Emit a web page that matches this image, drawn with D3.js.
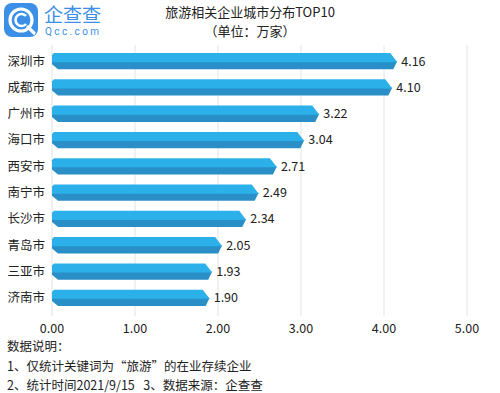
<!DOCTYPE html>
<html><head><meta charset="utf-8">
<script src="https://cdn.jsdelivr.net/npm/d3@7"></script>
<style>body{margin:0;background:#fff}svg{display:block;font-family:"Noto Sans CJK SC","Noto Sans",sans-serif}</style>
</head><body><svg id="c" width="500" height="393"></svg>
<script>
const cities = ["深圳市","成都市","广州市","海口市","西安市","南宁市","长沙市","青岛市","三亚市","济南市"];
const values = [4.16,4.10,3.22,3.04,2.71,2.49,2.34,2.05,1.93,1.90];
const ticks = [0,1,2,3,4,5];
const title = "旅游相关企业城市分布TOP10";
const subtitle = "（单位：万家）";
const notes = ["数据说明：","1、仅统计关键词为“旅游”的在业存续企业","2、统计时间2021/9/15\u00a0\u00a0\u00a03、数据来源：企查查"];

const svg = d3.select("#c");
const x = d3.scaleLinear().domain([0,5]).range([52,467]);
const y = d3.scaleBand().domain(cities).range([48,311]).paddingInner(0.38).paddingOuter(0.19);

// gridlines
svg.append("g").selectAll("line").data(ticks).join("line")
  .attr("x1",d=>x(d)).attr("x2",d=>x(d)).attr("y1",45).attr("y2",316)
  .attr("stroke","#e3e3e3").attr("stroke-width",1);

// axis labels
svg.append("g").selectAll("text").data(ticks).join("text")
  .attr("x",d=>x(d)).attr("y",333).attr("text-anchor","middle")
  .attr("font-size",12.5).attr("fill","#222").text(d=>d.toFixed(2));

// bars
const g = svg.append("g").selectAll("g").data(cities).join("g");
g.append("path").attr("fill","#2a8fc6").attr("d",(c,i)=>{
  const x0=x(0), x1=x(values[i]), y0=y(c), h=y.bandwidth(), m=y0+h/2, y1=y0+h;
  return `M${x0},${m}L${x1},${m}L${x1-4},${y1}L${x0+6},${y1}L${x0},${y1-5}Z`;
});
g.append("path").attr("fill","#2bb0ea").attr("d",(c,i)=>{
  const x0=x(0), x1=x(values[i]), y0=y(c), h=y.bandwidth(), m=y0+h/2;
  return `M${x0+2},${y0}L${x1-7},${y0}L${x1},${m+1}L${x0},${m+1}L${x0},${y0+2}Z`;
});
g.append("text").attr("x",(c,i)=>x(values[i])+4).attr("y",c=>y(c)+y.bandwidth()/2+1)
  .attr("dominant-baseline","middle").attr("font-size",12.5).attr("fill","#222")
  .text((c,i)=>values[i].toFixed(2));
g.append("text").attr("x",45).attr("y",c=>y(c)+y.bandwidth()/2+1).attr("text-anchor","end")
  .attr("dominant-baseline","middle").attr("font-size",12.5).attr("fill","#222").text(c=>c);

// title
svg.append("text").attr("x",250).attr("y",17).attr("text-anchor","middle").attr("font-size",13).attr("fill","#222").text(title);
svg.append("text").attr("x",250).attr("y",36).attr("text-anchor","middle").attr("font-size",13).attr("fill","#222").text(subtitle);

// logo
const lg = svg.append("g");
lg.append("rect").attr("x",4).attr("y",3).attr("width",34).attr("height",34).attr("rx",8).attr("fill","#3b8fe6");
lg.append("circle").attr("cx",21).attr("cy",20).attr("r",11).attr("fill","none").attr("stroke","#fff").attr("stroke-width",3.2);
lg.append("path").attr("d","M26,16 A6,6 0 1 0 26,24").attr("fill","none").attr("stroke","#fff").attr("stroke-width",2.6);
lg.append("line").attr("x1",28).attr("y1",27).attr("x2",34).attr("y2",33).attr("stroke","#fff").attr("stroke-width",3.2).attr("stroke-linecap","round");
lg.append("text").attr("x",44).attr("y",22).attr("font-size",19).attr("fill","#3b8fe6").text("企查查");
lg.append("text").attr("x",45).attr("y",35).attr("font-size",10).attr("letter-spacing",2.4).attr("fill","#3b8fe6").attr("font-family","Roboto,sans-serif").text("Qcc.com");

// notes
svg.append("g").selectAll("text").data(notes).join("text")
  .attr("x",7).attr("y",(d,i)=>[351,371,390][i]).attr("font-size",12.5).attr("fill","#222").text(d=>d);
</script></body></html>
